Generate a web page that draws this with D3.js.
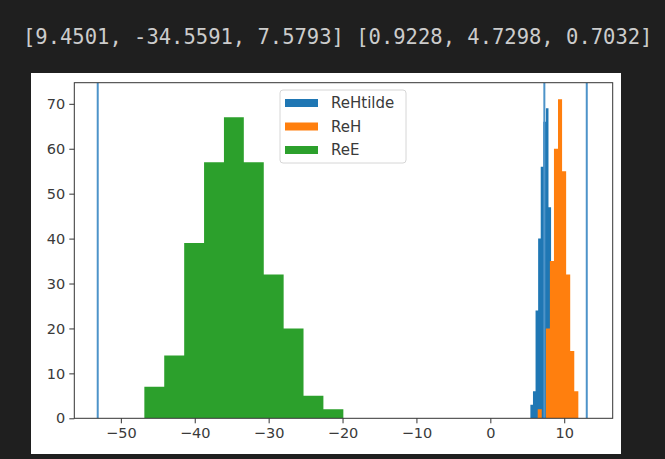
<!DOCTYPE html>
<html>
<head>
<meta charset="utf-8">
<script src="https://cdn.jsdelivr.net/npm/d3@7"></script>
<style>
  html, body { margin: 0; padding: 0; background: #1f1f1f; }
  svg { display: block; }
</style>
</head>
<body>
<script>
// ---- data ----
const headerText = "[9.4501, -34.5591, 7.5793] [0.9228, 4.7298, 0.7032]";

const reHtildeEdges = [5.42, 5.77, 6.12, 6.47, 6.82, 7.17, 7.52, 7.87, 8.22, 8.57, 8.92];
const reHtildeCounts = [3, 6, 24, 40, 56, 66, 69, 47, 22, 8];

const reHEdges = [6.41, 6.96, 7.51, 8.06, 8.61, 9.16, 9.71, 10.26, 10.81, 11.36, 11.91];
const reHCounts = [2, 0, 20, 35, 60, 71, 55, 32, 15, 6];

const reEEdges = [-46.82, -44.13, -41.43, -38.74, -36.05, -33.36, -30.66, -27.97, -25.28, -22.59, -19.89];
const reECounts = [7, 14, 39, 57, 67, 57, 32, 20, 5, 2];

const vlineValues = [-53.13, 7.31, 13.05];

const seriesNames = ["ReHtilde", "ReH", "ReE"];
const seriesColors = ["#1f77b4", "#ff7f0e", "#2ca02c"];

const xTicks = [-50, -40, -30, -20, -10, 0, 10];
const yTicks = [0, 10, 20, 30, 40, 50, 60, 70];

const xDomain = [-56.3, 16.56];
const yDomain = [0, 74.7];

// ---- layout ----
const W = 665, H = 459;
const fig = { x: 31, y: 73, w: 590, h: 381 };
const plot = { left: 74.3, right: 612.7, top: 82.7, bottom: 418.3 };

const svg = d3.select("body").append("svg").attr("width", W).attr("height", H);
svg.append("rect").attr("width", W).attr("height", H).attr("fill", "#1f1f1f");

svg.append("text")
  .attr("x", 23).attr("y", 44)
  .attr("font-family", "'DejaVu Sans Mono', 'Liberation Mono', monospace")
  .attr("font-size", "20.5px")
  .attr("fill", "#cccccc")
  .text(headerText);

svg.append("rect")
  .attr("x", fig.x).attr("y", fig.y).attr("width", fig.w).attr("height", fig.h)
  .attr("fill", "#ffffff");

const x = d3.scaleLinear().domain(xDomain).range([plot.left, plot.right]);
const y = d3.scaleLinear().domain(yDomain).range([plot.bottom, plot.top]);

const series = [
  { edges: reHtildeEdges, counts: reHtildeCounts },
  { edges: reHEdges, counts: reHCounts },
  { edges: reEEdges, counts: reECounts }
];

svg.append("clipPath").attr("id", "clip").append("rect")
  .attr("x", plot.left).attr("y", plot.top)
  .attr("width", plot.right - plot.left).attr("height", plot.bottom - plot.top);

const pg = svg.append("g").attr("clip-path", "url(#clip)");

// each histogram drawn as one stepped area (no seams between bars)
const area = d3.area()
  .x(d => x(d[0]))
  .y0(y(0))
  .y1(d => y(d[1]))
  .curve(d3.curveStepAfter);

series.forEach((s, i) => {
  const pts = s.edges.map((e, j) => [e, j < s.counts.length ? s.counts[j] : 0]);
  pg.append("path")
    .datum(pts)
    .attr("d", area)
    .attr("fill", seriesColors[i]);
});

pg.append("g").selectAll("line").data(vlineValues).join("line")
  .attr("x1", d => x(d)).attr("x2", d => x(d))
  .attr("y1", plot.top).attr("y2", plot.bottom)
  .attr("stroke", "#4d93c9").attr("stroke-width", 2);

// axes
const fontFam = "'DejaVu Sans', sans-serif";
const xAxis = d3.axisBottom(x).tickValues(xTicks)
  .tickFormat(d => d < 0 ? "\u2212" + Math.abs(d) : String(d))
  .tickSize(5).tickPadding(4);
const yAxis = d3.axisLeft(y).tickValues(yTicks).tickSize(5).tickPadding(4);

const gx = svg.append("g").attr("transform", `translate(0,${plot.bottom})`).call(xAxis);
const gy = svg.append("g").attr("transform", `translate(${plot.left},0)`).call(yAxis);
[gx, gy].forEach(g => {
  g.select(".domain").remove();
  g.selectAll(".tick line").attr("stroke", "#333").attr("stroke-width", 1);
  g.selectAll(".tick text").attr("fill", "#3a3a3a")
    .attr("font-family", fontFam).attr("font-size", "14.5px");
});

// spines
svg.append("rect")
  .attr("x", plot.left).attr("y", plot.top)
  .attr("width", plot.right - plot.left).attr("height", plot.bottom - plot.top)
  .attr("fill", "none").attr("stroke", "#333").attr("stroke-width", 1);

// legend
const lg = svg.append("g");
lg.append("rect")
  .attr("x", 280).attr("y", 90).attr("width", 126).attr("height", 73)
  .attr("rx", 3).attr("fill", "#ffffff").attr("fill-opacity", 0.85)
  .attr("stroke", "#d6d6d6").attr("stroke-width", 1);
const rowY = [103, 126.5, 150];
seriesNames.forEach((n, i) => {
  lg.append("rect").attr("x", 285).attr("y", rowY[i] - 4).attr("width", 33).attr("height", 8)
    .attr("fill", seriesColors[i]);
  lg.append("text").attr("x", 331).attr("y", rowY[i]).attr("dy", "0.35em")
    .attr("font-family", fontFam).attr("font-size", "15px").attr("fill", "#3a3a3a")
    .text(n);
});
</script>
</body>
</html>
